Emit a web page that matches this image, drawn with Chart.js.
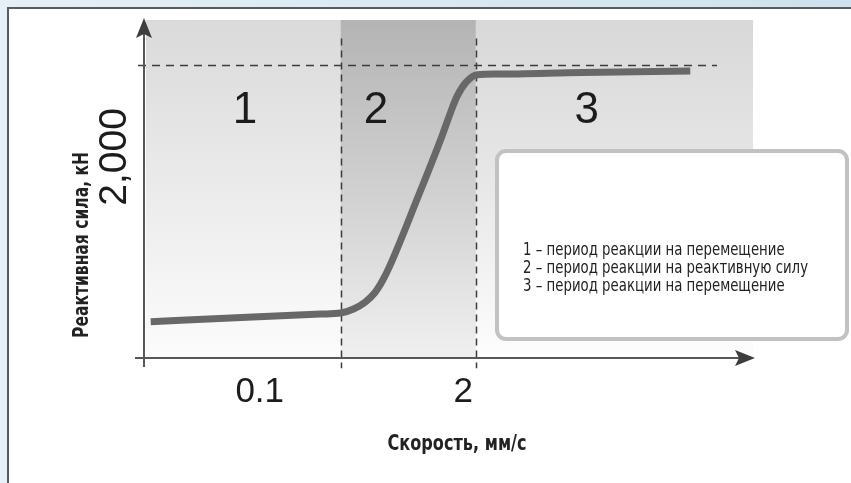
<!DOCTYPE html>
<html>
<head>
<meta charset="utf-8">
<script src="https://cdn.jsdelivr.net/npm/chart.js@4.4.1/dist/chart.umd.min.js"></script>
<style>
  html, body { margin: 0; padding: 0; }
  body { width: 851px; height: 483px; overflow: hidden; position: relative; background: #e7f0f7; }
  .strip { position: absolute; left: 0; top: 0; width: 851px; height: 7px; background: linear-gradient(90deg, #e6eff6, #cde2ee); }
  .panel { position: absolute; left: 7px; top: 7px; right: 0; bottom: 0; background: #fff; border-left: 2px solid #565d62; border-top: 2px solid #565d62; }
  .wrap { position: absolute; left: 0; top: 0; width: 851px; height: 483px; }
</style>
</head>
<body>
<div class="strip"></div>
<div class="panel"></div>
<div class="wrap"><canvas id="chart"></canvas></div>
<script>
// reaction force vs. speed (axis units 0..100)
const curveX = [1.1, 16.0, 29.0, 32.3, 34.4, 36.3, 37.9, 39.2, 40.4, 44.8, 49.0, 50.2, 51.4, 52.9, 54.7, 58.0, 72.0, 89.7]
const curveY = [10.7, 12.0, 13.0, 13.3, 14.5, 16.5, 19.3, 23.0, 27.4, 46.8, 66.0, 72.0, 77.4, 81.6, 83.8, 84.0, 84.5, 84.9]

const regionBounds = [0, 32.3, 54.5, 100]
const regionNames = ["1", "2", "3"]
const regionNameX = [16.6, 38.1, 72.7]
const regionNameY = 73

const limitY = 86.7
const limitEndX = 94.1

const xTickValues = [19.0, 52.4]
const xTickLabels = ["0.1", "2"]
const yTickValues = [59.5]
const yTickLabels = ["2,000"]

const xTitle = "Скорость, мм/с"
const yTitle = "Реактивная сила, кН"

const legendLines = [
  "1 – период реакции на перемещение",
  "2 – период реакции на реактивную силу",
  "3 – период реакции на перемещение",
]

const NARROW = '"Liberation Sans Narrow", "DejaVu Sans Condensed", sans-serif'
const SANS = '"Liberation Sans", Arimo, Arial, sans-serif'

const regionShades = [
  ["#dadada", "#ebebeb", "#fcfcfc"],
  ["#b4b4b4", "#d0d0d0", "#f0f0f0"],
  ["#d8d8d8", "#e8e8e8", "#fdfdfd"],
]

// squeeze text horizontally to the width it has in the picture
const fitText = (ctx, text, width) => {
  const w = ctx.measureText(text).width
  ctx.save()
  ctx.scale(width / w, 1)
  ctx.fillText(text, 0, 0)
  ctx.restore()
}

const decor = {
  id: "decor",
  beforeDatasetsDraw(chart) {
    const { ctx, chartArea, scales: { x, y } } = chart
    ctx.save()
    // shaded periods
    for (let i = 0; i < 3; i++) {
      const left = x.getPixelForValue(regionBounds[i])
      const right = x.getPixelForValue(regionBounds[i + 1])
      const g = ctx.createLinearGradient(0, chartArea.top, 0, chartArea.bottom)
      g.addColorStop(0, regionShades[i][0])
      g.addColorStop(0.5, regionShades[i][1])
      g.addColorStop(1, regionShades[i][2])
      ctx.fillStyle = g
      ctx.fillRect(left + (i === 0 ? 2 : 0), chartArea.top, right - left, chartArea.bottom - chartArea.top)
    }
    // dashed guides
    ctx.strokeStyle = "#3c3c3c"
    ctx.lineWidth = 1.5
    ctx.setLineDash([7, 5])
    for (const v of [regionBounds[1], regionBounds[2]]) {
      const px = Math.round(x.getPixelForValue(v)) + 0.5
      ctx.beginPath()
      ctx.moveTo(px, y.getPixelForValue(94.5))
      ctx.lineTo(px, y.getPixelForValue(-3))
      ctx.stroke()
    }
    ctx.setLineDash([8, 6])
    const ly = Math.round(y.getPixelForValue(limitY)) + 0.5
    ctx.beginPath()
    ctx.moveTo(x.getPixelForValue(0) - 6, ly)
    ctx.lineTo(x.getPixelForValue(limitEndX), ly)
    ctx.stroke()
    ctx.restore()
  },
  afterDatasetsDraw(chart) {
    const { ctx, chartArea, scales: { x, y } } = chart
    const x0 = x.getPixelForValue(0)
    const y0 = y.getPixelForValue(0)
    ctx.save()

    // axes with arrowheads
    ctx.strokeStyle = "#575757"
    ctx.lineWidth = 2
    ctx.beginPath()
    ctx.moveTo(x0, y0 + 9)
    ctx.lineTo(x0, chartArea.top + 12)
    ctx.moveTo(x0 - 9, y0)
    ctx.lineTo(chartArea.right - 12, y0)
    ctx.stroke()
    ctx.fillStyle = "#3d3d3d"
    ctx.beginPath()
    ctx.moveTo(x0, chartArea.top - 2)
    ctx.lineTo(x0 + 8, chartArea.top + 18)
    ctx.lineTo(x0, chartArea.top + 14)
    ctx.lineTo(x0 - 8, chartArea.top + 18)
    ctx.closePath()
    ctx.fill()
    ctx.beginPath()
    ctx.moveTo(chartArea.right + 2, y0)
    ctx.lineTo(chartArea.right - 18, y0 - 8)
    ctx.lineTo(chartArea.right - 14, y0)
    ctx.lineTo(chartArea.right - 18, y0 + 8)
    ctx.closePath()
    ctx.fill()

    // period numbers
    ctx.fillStyle = "#1c1c1c"
    ctx.textAlign = "center"
    ctx.textBaseline = "middle"
    ctx.font = "44px " + SANS
    regionNames.forEach((name, i) => {
      ctx.fillText(name, x.getPixelForValue(regionNameX[i]), y.getPixelForValue(regionNameY))
    })

    // tick labels
    ctx.font = "35px " + SANS
    ctx.textBaseline = "top"
    xTickLabels.forEach((label, i) => {
      ctx.fillText(label, x.getPixelForValue(xTickValues[i]), y0 + 17)
    })
    ctx.font = "39px " + SANS
    yTickLabels.forEach((label, i) => {
      ctx.save()
      ctx.translate(x0 - 18, y.getPixelForValue(yTickValues[i]))
      ctx.rotate(-Math.PI / 2)
      ctx.textBaseline = "alphabetic"
      ctx.fillText(label, 0, 0)
      ctx.restore()
    })

    // axis titles
    ctx.fillStyle = "#222"
    ctx.font = "bold 21px " + NARROW
    ctx.textBaseline = "middle"
    ctx.save()
    ctx.translate(457, 445)
    fitText(ctx, xTitle, 139)
    ctx.restore()
    ctx.save()
    ctx.translate(83, 245)
    ctx.rotate(-Math.PI / 2)
    fitText(ctx, yTitle, 186)
    ctx.restore()

    // legend box
    ctx.fillStyle = "#fff"
    ctx.strokeStyle = "#c2c2c2"
    ctx.lineWidth = 4
    ctx.beginPath()
    ctx.roundRect(497, 151, 350, 188, 9)
    ctx.fill()
    ctx.stroke()
    ctx.fillStyle = "#222"
    ctx.textAlign = "left"
    ctx.textBaseline = "alphabetic"
    ctx.font = "17px " + NARROW
    const squeeze = 285 / ctx.measureText(legendLines[1]).width
    legendLines.forEach((line, i) => {
      ctx.save()
      ctx.translate(523, 255 + i * 18)
      ctx.scale(squeeze, 1)
      ctx.fillText(line, 0, 0)
      ctx.restore()
    })

    ctx.restore()
  },
}

new Chart(document.getElementById("chart"), {
  type: "line",
  data: {
    datasets: [
      {
        data: curveX.map((v, i) => ({ x: v, y: curveY[i] })),
        borderColor: "#686868",
        borderWidth: 7,
        borderCapStyle: "butt",
        borderJoinStyle: "round",
        cubicInterpolationMode: "monotone",
        pointRadius: 0,
        fill: false,
      },
    ],
  },
  options: {
    animation: false,
    responsive: true,
    maintainAspectRatio: false,
    layout: { padding: { left: 144, right: 98, top: 20, bottom: 125 } },
    plugins: { legend: { display: false }, tooltip: { enabled: false } },
    scales: {
      x: { type: "linear", min: 0, max: 100, display: false },
      y: { type: "linear", min: 0, max: 100, display: false },
    },
  },
  plugins: [decor],
})
</script>
</body>
</html>
